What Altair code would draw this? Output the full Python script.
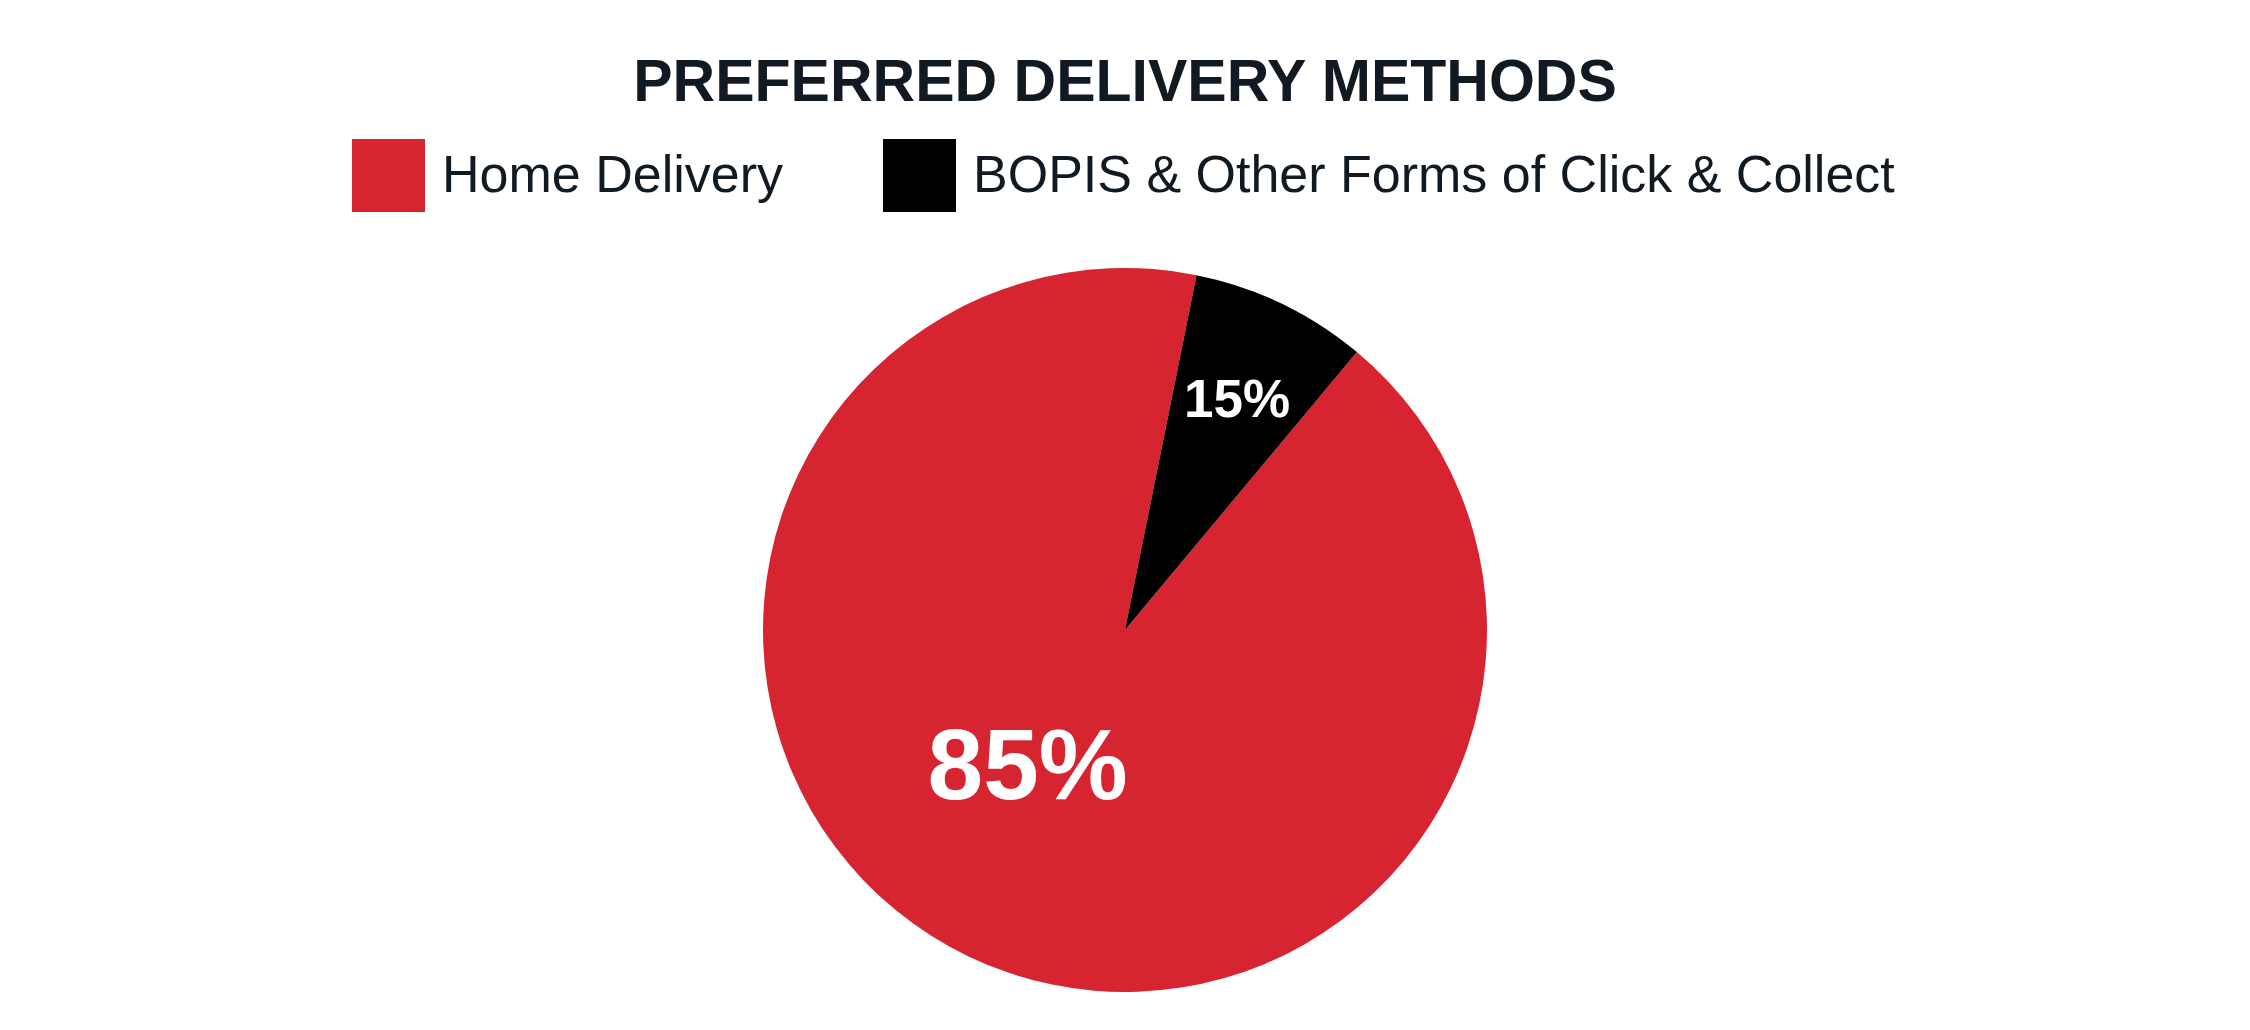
import math
import altair as alt
import pandas as pd

categories = ["Home Delivery", "BOPIS & Other Forms of Click & Collect"]
shares = [92.1, 7.9]          # slice sizes as drawn
labels = ["85%", "15%"]       # printed labels
colors = ["#D62431", "#000000"]

df = pd.DataFrame({"category": categories, "share": shares, "label": labels})

start = math.radians(11.4)
theta_scale = alt.Scale(range=[start, start + 2 * math.pi])

base = alt.Chart(df).encode(
    theta=alt.Theta("share:Q", stack=True, scale=theta_scale),
    order=alt.Order("category:N", sort="ascending"),
)

pie = base.mark_arc(outerRadius=362, stroke=None).encode(
    color=alt.Color(
        "category:N",
        scale=alt.Scale(domain=categories, range=colors),
        legend=alt.Legend(
            title=None,
            orient="none",
            direction="horizontal",
            legendX=344,
            legendY=-121,
            symbolType="square",
            symbolSize=5329,
            symbolStrokeWidth=0,
            symbolOpacity=1,
            labelFont="Liberation Sans",
            labelFontSize=52,
            labelColor="#111a22",
            labelOffset=17,
            labelLimit=2000,
            columnPadding=100,
            padding=0,
        ),
    )
)

small = base.mark_text(
    radius=259, dy=5, font="Liberation Sans", fontWeight="bold", fontSize=53, color="white"
).encode(
    detail="category:N",
    text=alt.condition(alt.datum.label == "15%", alt.Text("label:N"), alt.value("")),
)

big = base.mark_text(
    radius=165, dx=-26, dy=-10, font="Liberation Sans", fontWeight="bold", fontSize=100, color="white"
).encode(
    detail="category:N",
    text=alt.condition(alt.datum.label == "85%", alt.Text("label:N"), alt.value("")),
)

chart = alt.layer(pie, small, big).properties(
    width=2234,
    height=740,
    padding={"left": 0, "top": 252, "right": 0, "bottom": 0},
    autosize=alt.AutoSizeParams(type="none"),
    title=alt.TitleParams(
        "PREFERRED DELIVERY METHODS",
        font="Liberation Sans",
        fontSize=59,
        fontWeight="bold",
        color="#111a22",
        anchor="middle",
        baseline="alphabetic",
        offset=-21,
    ),
).configure_view(stroke=None)

chart.save("out.html", embed_options={"renderer": "svg", "actions": False})
